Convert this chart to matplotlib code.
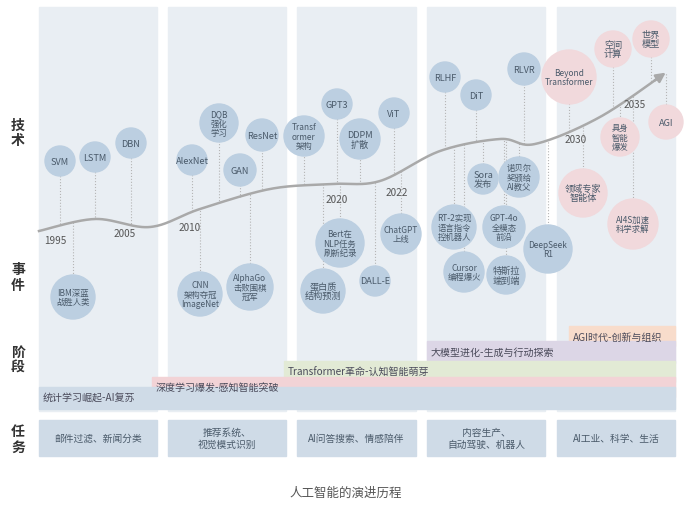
import matplotlib.pyplot as plt
import numpy as np
from matplotlib.patches import Rectangle, Circle

plt.rcParams['font.family'] = ['Noto Sans CJK SC', 'DejaVu Sans']

# columns (x ranges in pixel space)
col_x = [(39, 157), (168, 286), (297, 416), (427, 545), (557, 675)]
tasks = ['邮件过滤、新闻分类', '推荐系统、\n视觉模式识别', 'AI问答搜索、情感陪伴',
         '内容生产、\n自动驾驶、机器人', 'AI工业、科学、生活']

# stages: label, x0, y_top, y_bottom, colour
stages = [
    ('AGI时代-创新与组织', 569, 327, 347, '#f8dccb'),
    ('大模型进化-生成与行动探索', 427, 342, 364, '#dcd6e6'),
    ('Transformer革命-认知智能萌芽', 284, 362, 383, '#e2ead5'),
    ('深度学习爆发-感知智能突破', 152, 378, 398, '#f2d3d6'),
    ('统计学习崛起-AI复苏', 39, 388, 410, '#cfdbe7'),
]

# timeline curve knots
curve_x = [39, 95, 150, 200, 270, 330, 380, 440, 500, 535, 600, 668]
curve_y = [232, 220, 228, 210, 190, 185, 182, 152, 140, 145, 118, 72]

years = [('1995', 55, 241), ('2005', 125, 234), ('2010', 190, 228), ('2020', 337, 200),
         ('2022', 397, 193), ('2030', 576, 140), ('2035', 635, 105)]

# bubbles: label, x, y, radius, pink?
bubbles = [
    ('SVM', 60, 162, 15, 0), ('LSTM', 95, 158, 15, 0), ('DBN', 131, 144, 15, 0),
    ('IBM深蓝\n战胜人类', 73, 298, 22, 0),
    ('AlexNet', 192, 161, 15, 0), ('DQB\n强化\n学习', 219, 124, 19, 0),
    ('GAN', 240, 171, 16, 0), ('ResNet', 262, 136, 16, 0),
    ('CNN\n架构夺冠\nImageNet', 200, 295, 22, 0), ('AlphaGo\n击败围棋\n冠军', 250, 288, 23, 0),
    ('Transf\normer\n架构', 304, 137, 20, 0), ('GPT3', 337, 105, 15, 0),
    ('Bert在\nNLP任务\n刷新纪录', 340, 244, 24, 0), ('蛋白质\n结构预测', 323, 292, 22, 0),
    ('DDPM\n扩散', 360, 140, 20, 0), ('ViT', 394, 114, 15, 0),
    ('DALL-E', 375, 282, 15, 0), ('ChatGPT\n上线', 401, 235, 20, 0),
    ('RLHF', 445, 78, 15, 0), ('DiT', 476, 96, 15, 0), ('RLVR', 524, 70, 16, 0),
    ('Sora\n发布', 483, 180, 15, 0), ('诺贝尔\n奖颁给\nAI教父', 519, 178, 20, 0),
    ('RT-2实现\n语言指令\n控机器人', 454, 228, 22, 0), ('GPT-4o\n全模态\n前沿', 504, 228, 21, 0),
    ('Cursor\n编程爆火', 464, 273, 20, 0), ('特斯拉\n端到端', 506, 276, 19, 0),
    ('DeepSeek\nR1', 548, 250, 24, 0),
    ('Beyond\nTransformer', 569, 78, 27, 1), ('空间\n计算', 613, 50, 18, 1),
    ('世界\n模型', 651, 40, 18, 1), ('AGI', 666, 123, 17, 1),
    ('具身\n智能\n爆发', 620, 138, 19, 1), ('领域专家\n智能体', 583, 194, 24, 1),
    ('AI4S加速\n科学求解', 633, 225, 25, 1),
]

fig = plt.figure(figsize=(6.92, 5.06), dpi=100)
ax = fig.add_axes([0, 0, 1, 1])
ax.set_xlim(0, 692)
ax.set_ylim(506, 0)
ax.axis('off')

for (x0, x1), t in zip(col_x, tasks):
    ax.add_patch(Rectangle((x0, 8), x1 - x0, 404, color='#e9eef3', zorder=0))
    ax.add_patch(Rectangle((x0, 421), x1 - x0, 36, color='#cfdbe7', zorder=1))
    ax.text((x0 + x1) / 2, 439, t, ha='center', va='center', fontsize=7,
            color='#4a5a6a', linespacing=1.2, zorder=2)

for lab, x0, yt, yb, c in stages:
    ax.add_patch(Rectangle((x0, yt), 675 - x0, yb - yt, color=c, zorder=1))
for lab, x0, yt, yb, c in stages:
    ax.text(x0 + 4, yt + 11, lab, ha='left', va='center', fontsize=7.2,
            color='#4a4a5a', zorder=2)

# smooth timeline
cx = np.array(curve_x, float)
cy = np.array(curve_y, float)
t = np.linspace(0, len(cx) - 1, 400)
def catmull(p, t):
    p = np.concatenate([[p[0]], p, [p[-1]]])
    out = []
    for tt in t:
        i = min(int(tt), len(p) - 4)
        u = tt - i
        a, b, c, d = p[i:i + 4]
        out.append(0.5 * (2 * b + (-a + c) * u + (2 * a - 5 * b + 4 * c - d) * u ** 2
                          + (-a + 3 * b - 3 * c + d) * u ** 3))
    return np.array(out)
sx, sy = catmull(cx, t), catmull(cy, t)
ax.plot(sx[:-8], sy[:-8], color='#a9a9a9', lw=1.8, zorder=3)
ax.annotate('', xy=(sx[-1], sy[-1]), xytext=(sx[-12], sy[-12]),
            arrowprops=dict(arrowstyle='-|>', color='#a9a9a9', lw=1.8,
                            mutation_scale=14), zorder=3)

for lab, x, y in years:
    ax.text(x, y, lab, ha='center', va='center', fontsize=7.2, color='#555555', zorder=4)

for lab, x, y, r, pink in bubbles:
    yc = np.interp(x, sx, sy)
    ax.plot([x, x], [y, yc], color='#b5b5b5', lw=0.8, ls=':', zorder=2)
    ax.add_patch(Circle((x, y), r, color='#f1d9dc' if pink else '#bccfe1', zorder=5))
    fs = 6.0 if len(lab.split('\n')) > 2 or len(lab) > 8 else 6.6
    ax.text(x, y, lab, ha='center', va='center', fontsize=fs, color='#4a5a6a',
            linespacing=1.1, zorder=6)

for lab, y in [('技\n术', 133), ('事\n件', 278), ('阶\n段', 360), ('任\n务', 440)]:
    ax.text(18, y, lab, ha='center', va='center', fontsize=10, fontweight='bold',
            color='#333333', linespacing=1.1)

ax.text(346, 493, '人工智能的演进历程', ha='center', va='center', fontsize=9, color='#555555')

fig.savefig('out.png', dpi=100, facecolor='white')
